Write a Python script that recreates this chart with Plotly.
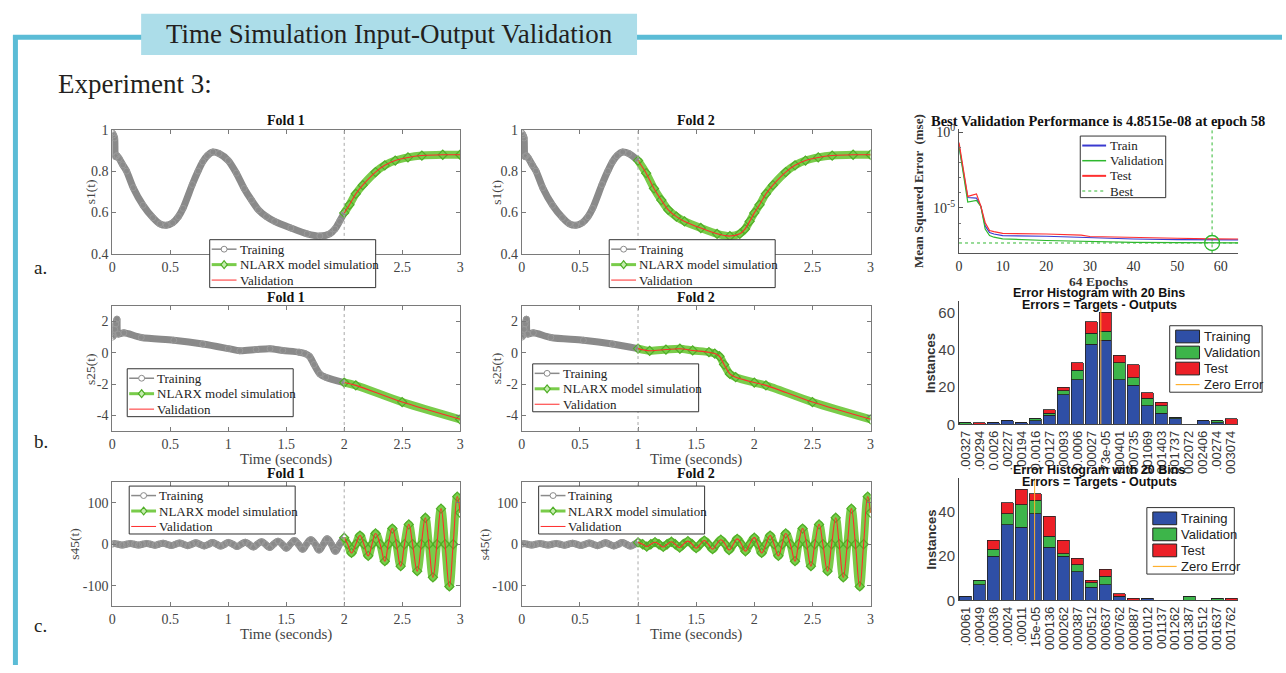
import plotly.graph_objects as go

W, H = 1286, 673


def fx(px):
    return px / W


def fy(py):
    return 1 - py / H


SERIF = "Liberation Serif"
SANS = "Liberation Sans"

# ---------------- data ----------------
time_ticks = [0, 0.5, 1, 1.5, 2, 2.5, 3]
time_tick_text = ["0", "0.5", "1", "1.5", "2", "2.5", "3"]
fold_names = ["Fold 1", "Fold 2"]
fold_splits = [2.0, 1.0]

t_s1 = [0.0, 0.01, 0.02, 0.028, 0.04, 0.06, 0.09, 0.123, 0.18, 0.265, 0.35, 0.41, 0.465,
        0.52, 0.57, 0.61, 0.69, 0.74, 0.78, 0.82, 0.868, 0.92, 1.0, 1.07, 1.137, 1.2,
        1.26, 1.33, 1.40, 1.54, 1.68, 1.79, 1.875, 1.92, 1.96, 2.0, 2.045, 2.1, 2.16,
        2.27, 2.35, 2.44, 2.55, 2.67, 2.85, 3.0]
v_s1 = [0.985, 0.975, 0.96, 0.87, 0.875, 0.86, 0.83, 0.80, 0.72, 0.635, 0.575, 0.545, 0.538,
        0.55, 0.58, 0.62, 0.735, 0.80, 0.845, 0.875, 0.892, 0.885, 0.851, 0.79, 0.716, 0.66,
        0.613, 0.58, 0.557, 0.525, 0.497, 0.486, 0.497, 0.52, 0.557, 0.598, 0.637, 0.69, 0.732,
        0.795, 0.828, 0.851, 0.866, 0.875, 0.879, 0.879]

t_s25 = [0.0, 0.01, 0.02, 0.03, 0.04, 0.05, 0.1, 0.25, 0.53, 0.78, 1.0, 1.1, 1.24, 1.36,
         1.47, 1.61, 1.66, 1.70, 1.74, 1.79, 1.84, 2.0, 2.1, 2.5, 3.0]
v_s25 = [1.0, 1.1, 1.5, 1.85, 2.15, 1.2, 1.28, 0.98, 0.8, 0.56, 0.27, 0.13, 0.21, 0.26,
         0.15, 0.04, -0.05, -0.22, -0.75, -1.35, -1.56, -1.9, -2.08, -3.15, -4.25]

t_s45 = [0.0, 0.014, 0.05, 0.085, 0.12, 0.155, 0.19, 0.226, 0.26, 0.297, 0.33, 0.368, 0.40,
         0.438, 0.47, 0.509, 0.545, 0.58, 0.615, 0.651, 0.685, 0.721, 0.755, 0.792, 0.83,
         0.863, 0.90, 0.934, 0.97, 1.0, 1.04, 1.075, 1.11, 1.146, 1.18, 1.217, 1.25, 1.287,
         1.32, 1.358, 1.39, 1.429, 1.465, 1.50, 1.535, 1.57, 1.605, 1.641, 1.675, 1.712, 1.75,
         1.783, 1.82, 1.853, 1.89, 1.924, 1.96, 2.0, 2.03, 2.063, 2.10, 2.136, 2.17, 2.207,
         2.24, 2.27, 2.31, 2.35, 2.38, 2.415, 2.45, 2.487, 2.52, 2.557, 2.59, 2.63, 2.665,
         2.70, 2.73, 2.765, 2.80, 2.835, 2.87, 2.907, 2.94, 2.975, 3.0]
v_s45 = [0, 1.5, 0, -2, 0, 2, 0, -2, 0, 2, 0, -2.5, 0,
         2.5, 0, -3, 0, 3, 0, -3.5, 0, 3.5, 0, -4, 0,
         4, 0, -4.5, 0, 4.5, 0, -5.5, 0, 5, 0, -6.5, 0, 6,
         0, -8, 0, 7.5, 0, -9.5, 0, 9, 0, -12, 0, 11, 0,
         -14, 0, 13, 0, -17, 0, 16, 0, -21, 0, 21, 0, -28,
         0, 26, 0, -41, 0, 38, 0, -53, 0, 48, 0, -65, 0,
         64, 0, -80, 0, 86, 0, -102, 0, 115, 76]

epochs = [0, 2, 4, 5, 6, 7, 8, 10, 20, 28, 30, 40, 50, 58, 64]
mse_train = [0.13, 4.9e-5, 4.5e-5, 1.3e-5, 6.5e-7, 2.4e-7, 1.9e-7, 1.5e-7, 1.35e-7, 1.15e-7,
             1.05e-7, 8.9e-8, 8.1e-8, 7.9e-8, 7.8e-8]
mse_val = [0.126, 2.45e-5, 3.2e-5, 1.26e-5, 4.0e-7, 1.5e-7, 1.17e-7, 9.1e-8, 7.1e-8, 6.3e-8,
           6.0e-8, 5.4e-8, 5.1e-8, 4.8515e-8, 4.9e-8]
mse_test = [0.21, 5.8e-5, 8.5e-5, 1.3e-5, 1.05e-6, 3.2e-7, 2.7e-7, 2.1e-7, 1.9e-7, 1.6e-7,
            1.3e-7, 1.1e-7, 1.0e-7, 9.2e-8, 8.9e-8]
best_epoch = 58
best_mse = 4.8515e-08
n_epochs = 64

hist1_labels = [".00327", ".00294", "0.0026", ".00227", ".00194", "0.0016", ".00127", ".00093",
                "0.0006", ".00027", "73e-05", "000401", "000735", "001069", "001403", "001737",
                "002072", "002406", ".00274", "003074"]
hist1_train = [0, 0, 1, 2, 1, 2, 5, 16, 24, 43, 45, 24, 21, 10, 6, 3, 0, 2, 1, 0]
hist1_val = [1, 0, 0, 0, 0, 1, 1, 2, 5, 6, 5, 9, 4, 4, 4, 1, 0, 0, 1, 0]
hist1_test = [0, 1, 0, 0, 0, 0, 2, 2, 4, 6, 10, 4, 7, 3, 2, 0, 0, 0, 0, 3]
hist1_zero_bin = 9.68

hist2_labels = [".00061", ".00049", ".00036", ".00024", ".00011", "15e-05", "000136", "000262",
                "000387", "000512", "000637", "000762", "000887", "001012", "001137", "001262",
                "001387", "001512", "001637", "001762"]
hist2_train = [2, 7, 20, 34, 33, 39, 24, 20, 13, 6, 7, 2, 0, 1, 0, 0, 0, 0, 0, 0]
hist2_val = [0, 2, 3, 5, 10, 6, 5, 1, 3, 2, 4, 0, 0, 0, 0, 0, 2, 0, 1, 0]
hist2_test = [0, 0, 4, 5, 7, 3, 9, 6, 3, 1, 3, 1, 1, 0, 0, 0, 0, 0, 0, 1]
hist2_zero_bin = 4.95

fold_legend_labels = ["Training", "NLARX model simulation", "Validation"]
perf_legend_labels = ["Train", "Validation", "Test", "Best"]
hist_legend_labels = ["Training", "Validation", "Test", "Zero Error"]

# ---------------- styles ----------------
GREY = "#8a8a8a"
GREEN_BAND = "#79cc4a"
GREEN = "#4fae27"
RED = "#ff2b2b"
AXC = "#7a7a7a"
TICKC = "#444444"
FRAME = "#5bbcd6"
C_TRAIN = "#3a3ad0"
C_VAL = "#2eb82e"
C_TEST = "#ff3030"
H_TRAIN = "#2f4fa6"
H_VAL = "#3db54a"
H_TEST = "#ec2027"
H_ZERO = "#ffb02e"

fig = go.Figure()

fold_x = [(109, 459), (521, 872)]
right_x = (961, 1242)
rows = [
    dict(y=(125.5, 252.5), t=t_s1, v=v_s1, yr=[0.4, 1.0], tv=[0.4, 0.6, 0.8, 1.0],
         tt=["0.4", "0.6", "0.8", "1"], lab="s1(t)", sm=0.8),
    dict(y=(305.7, 433.7), t=t_s25, v=v_s25, yr=[-5, 3], tv=[-4, -2, 0, 2],
         tt=["-4", "-2", "0", "2"], lab="s25(t)", sm=0.8),
    dict(y=(486, 613), t=t_s45, v=v_s45, yr=[-150, 150], tv=[-100, 0, 100],
         tt=["-100", "0", "100"], lab="s45(t)", sm=1.25),
]
legend_pos = [[(207, 238), (609, 238)], [(124, 370), (532, 365)], [(126, 490), (538, 490)]]

layout_axes = {}
annotations = []
shapes = []
legend_shapes = []
ax_index = {(0, 0): 1, (0, 1): 2, (1, 0): 4, (1, 1): 5, (2, 0): 7, (2, 1): 8}


def ann(text, x, y, size, family=SERIF, color="#222", xanchor="center", yanchor="middle",
        angle=0, bold=False):
    if bold:
        text = "<b>" + text + "</b>"
    annotations.append(dict(text=text, x=fx(x), y=fy(y), xref="paper", yref="paper",
                            showarrow=False, xanchor=xanchor, yanchor=yanchor,
                            textangle=angle, font=dict(family=family, size=size, color=color)))


def pshape(**kw):
    d = dict(xref="paper", yref="paper", layer="above")
    d.update(kw)
    legend_shapes.append(d)


def draw_legend(x0, y0, w, h, first, step, items, family, size, s0, s1, tx):
    pshape(type="rect", x0=fx(x0), x1=fx(x0 + w), y0=fy(y0 + h), y1=fy(y0),
           fillcolor="white", line=dict(color="#333", width=1))
    for i, it in enumerate(items):
        yc = y0 + first + step * i
        if it["kind"] == "box":
            pshape(type="rect", x0=fx(x0 + s0), x1=fx(x0 + s1), y0=fy(yc + 6.5),
                   y1=fy(yc - 6.5), fillcolor=it["color"], line=dict(color="#222", width=1))
        else:
            pshape(type="line", x0=fx(x0 + s0), x1=fx(x0 + s1), y0=fy(yc), y1=fy(yc),
                   line=dict(color=it["color"], width=it.get("width", 1),
                             dash=it.get("dash", "solid")))
            xc = x0 + (s0 + s1) / 2
            if it.get("marker") == "circle":
                pshape(type="circle", x0=fx(xc - 3), x1=fx(xc + 3), y0=fy(yc + 3),
                       y1=fy(yc - 3), fillcolor="white",
                       line=dict(color=it["mcolor"], width=1))
            elif it.get("marker") == "diamond":
                path = "M %f %f L %f %f L %f %f L %f %f Z" % (
                    fx(xc - 3.2), fy(yc), fx(xc), fy(yc - 4), fx(xc + 3.2), fy(yc),
                    fx(xc), fy(yc + 4))
                pshape(type="path", path=path, fillcolor="#c6ecb0",
                       line=dict(color=it["mcolor"], width=1.2))
        ann(it["label"], x0 + tx, yc, size, family=family, color="#222", xanchor="left")


for r, row in enumerate(rows):
    for f in range(2):
        k = ax_index[(r, f)]
        xa = "x" if k == 1 else "x%d" % k
        ya = "y" if k == 1 else "y%d" % k
        split = fold_splits[f]
        sm = row["sm"]
        t, v = row["t"], row["v"]
        tr_t = [a for a in t if a <= split]
        tr_v = [b for a, b in zip(t, v) if a <= split]
        va_t = [a for a in t if a >= split]
        va_v = [b for a, b in zip(t, v) if a >= split]
        common = dict(xaxis=xa, yaxis=ya, hoverinfo="skip", showlegend=False)
        fig.add_trace(go.Scatter(x=tr_t, y=tr_v, mode="lines",
                                 line=dict(color=GREY, width=7, shape="spline", smoothing=sm),
                                 **common))
        fig.add_trace(go.Scatter(x=tr_t, y=tr_v, mode="lines+markers", name="Training",
                                 line=dict(color=GREY, width=1, shape="spline", smoothing=sm),
                                 marker=dict(symbol="circle-open", size=6, color="#9a9a9a",
                                             line=dict(width=1)), **common))
        fig.add_trace(go.Scatter(x=va_t, y=va_v, mode="lines",
                                 line=dict(color=GREEN_BAND, width=8, shape="spline",
                                           smoothing=sm), **common))
        fig.add_trace(go.Scatter(x=va_t, y=va_v, mode="lines+markers",
                                 name="NLARX model simulation",
                                 line=dict(color=GREEN_BAND, width=2.5, shape="spline",
                                           smoothing=sm),
                                 marker=dict(symbol="diamond-open", size=7, color=GREEN,
                                             line=dict(width=1.2)), **common))
        fig.add_trace(go.Scatter(x=va_t, y=va_v, mode="lines", name="Validation",
                                 line=dict(color=RED, width=1.1, shape="spline", smoothing=sm),
                                 **common))
        x0, x1 = fold_x[f]
        y0, y1 = row["y"]
        layout_axes["xaxis" if k == 1 else "xaxis%d" % k] = dict(
            domain=[fx(x0), fx(x1)], anchor=ya, range=[0, 3], tickvals=time_ticks,
            ticktext=time_tick_text, showline=True, linecolor=AXC, linewidth=1,
            mirror="ticks", ticks="inside", ticklen=4, tickcolor=AXC, showgrid=False,
            zeroline=False, tickfont=dict(family=SERIF, size=14, color=TICKC))
        layout_axes["yaxis" if k == 1 else "yaxis%d" % k] = dict(
            domain=[fy(y1), fy(y0)], anchor=xa, range=row["yr"], tickvals=row["tv"],
            ticktext=row["tt"], showline=True, linecolor=AXC, linewidth=1,
            mirror="ticks", ticks="inside", ticklen=4, tickcolor=AXC, showgrid=False,
            zeroline=False, tickfont=dict(family=SERIF, size=14, color=TICKC))
        shapes.append(dict(type="line", xref=xa, yref=ya + " domain", x0=split, x1=split,
                           y0=0, y1=1, line=dict(color="#a8a8a8", width=1, dash="3px,3px")))
        lx, ly = legend_pos[r][f]
        draw_legend(lx, ly, 167, 49, 9.7, 15.8, [
            dict(kind="line", label=fold_legend_labels[0], color=GREY, width=1.5,
                 marker="circle", mcolor=GREY),
            dict(kind="line", label=fold_legend_labels[1], color=GREEN_BAND, width=3,
                 marker="diamond", mcolor=GREEN),
            dict(kind="line", label=fold_legend_labels[2], color=RED, width=1),
        ], SERIF, 13, 2, 27, 28)
        ann(fold_names[f], (x0 + x1) / 2, y0 - 9, 14, bold=True, color="#111")
        if f == 0:
            ylx = 87 if r < 2 else 71
        else:
            ylx = 496 if r < 2 else 483
        ann(row["lab"], ylx, (y0 + y1) / 2, 13.5, color=TICKC, angle=-90)
        if r > 0:
            ann("Time (seconds)", (x0 + x1) / 2, y1 + 29, 15, color=TICKC)

# ---------------- performance plot ----------------
pc = dict(xaxis="x3", yaxis="y3", hoverinfo="skip", showlegend=False)
fig.add_trace(go.Scatter(x=epochs, y=mse_train, mode="lines", name="Train",
                         line=dict(color=C_TRAIN, width=1.2), **pc))
fig.add_trace(go.Scatter(x=epochs, y=mse_val, mode="lines", name="Validation",
                         line=dict(color=C_VAL, width=1.2), **pc))
fig.add_trace(go.Scatter(x=epochs, y=mse_test, mode="lines", name="Test",
                         line=dict(color=C_TEST, width=1.2), **pc))
fig.add_trace(go.Scatter(x=[0, n_epochs], y=[best_mse, best_mse], mode="lines", name="Best",
                         line=dict(color="#33b833", width=1, dash="dot"), **pc))
fig.add_trace(go.Scatter(x=[best_epoch, best_epoch], y=[1e-8, 1.6], mode="lines",
                         line=dict(color="#33b833", width=1, dash="dot"), **pc))
fig.add_trace(go.Scatter(x=[best_epoch], y=[best_mse], mode="markers",
                         marker=dict(symbol="circle-open", size=15, color="#2eb82e",
                                     line=dict(width=1.3)), **pc))
layout_axes["xaxis3"] = dict(domain=[fx(right_x[0]), fx(right_x[1])], anchor="y3",
                             range=[0, n_epochs], tickvals=[0, 10, 20, 30, 40, 50, 60],
                             showline=True, linecolor="#555", ticks="", showgrid=False,
                             zeroline=False, tickfont=dict(family=SERIF, size=14, color="#333"))
layout_axes["yaxis3"] = dict(domain=[fy(252), fy(125)], anchor="x3", type="log",
                             range=[-8, 0.2], tickvals=[1, 1e-5],
                             ticktext=["10<sup>0</sup>", "10<sup>-5</sup>"], showline=True,
                             linecolor="#555", ticks="inside", ticklen=4, tickcolor="#555",
                             showgrid=False, zeroline=False,
                             minor=dict(ticks="inside", ticklen=2, tickcolor="#777",
                                        tickvals=[1e-1, 1e-2, 1e-3, 1e-4, 1e-6, 1e-7],
                                        showgrid=False),
                             tickfont=dict(family=SERIF, size=14, color="#333"))
draw_legend(1083, 132, 86, 63, 9.7, 15.5, [
    dict(kind="line", label=perf_legend_labels[0], color=C_TRAIN, width=2),
    dict(kind="line", label=perf_legend_labels[1], color=C_VAL, width=1.5),
    dict(kind="line", label=perf_legend_labels[2], color=C_TEST, width=2),
    dict(kind="line", label=perf_legend_labels[3], color="#33b833", width=1, dash="dot"),
], SERIF, 13, 2, 26, 28)
ann("Best Validation Performance is 4.8515e-08 at epoch 58", 1101, 117, 14.5, bold=True,
    color="#111")
ann("Mean Squared Error  (mse)", 921, 188, 13, bold=True, color="#333", angle=-90)
ann("64 Epochs", 1101, 281, 13.5, bold=True, color="#333")

# ---------------- histograms ----------------
hists = [
    dict(k=6, labels=hist1_labels, tr=hist1_train, va=hist1_val, te=hist1_test,
         zero=hist1_zero_bin, ytop=66, ytv=[0, 20, 40, 60], y=(301, 427),
         leg=(1173, 326, 93), t1=293, t2=305),
    dict(k=9, labels=hist2_labels, tr=hist2_train, va=hist2_val, te=hist2_test,
         zero=hist2_zero_bin, ytop=55, ytv=[0, 20, 40], y=(482, 607),
         leg=(1150, 512, 88), t1=474, t2=486),
]
bins = list(range(20))
for h in hists:
    k = h["k"]
    hc = dict(xaxis="x%d" % k, yaxis="y%d" % k, hoverinfo="skip", showlegend=False)
    edge = dict(color="#222", width=0.8)
    fig.add_trace(go.Bar(x=bins, y=h["tr"], name="Training", width=0.84,
                         marker=dict(color=H_TRAIN, line=edge), **hc))
    fig.add_trace(go.Bar(x=bins, y=h["va"], name="Validation", width=0.84,
                         marker=dict(color=H_VAL, line=edge), **hc))
    fig.add_trace(go.Bar(x=bins, y=h["te"], name="Test", width=0.84,
                         marker=dict(color=H_TEST, line=edge), **hc))
    fig.add_trace(go.Scatter(x=[h["zero"], h["zero"]], y=[0, h["ytop"]], mode="lines",
                             name="Zero Error", line=dict(color=H_ZERO, width=1), **hc))
    layout_axes["xaxis%d" % k] = dict(domain=[fx(right_x[0]), fx(right_x[1])],
                                      anchor="y%d" % k, range=[-0.45, 19.5], tickvals=bins,
                                      ticktext=h["labels"], tickangle=-90, showline=True,
                                      linecolor="#444", ticks="", showgrid=False,
                                      zeroline=False,
                                      tickfont=dict(family=SANS, size=13, color="#333"))
    layout_axes["yaxis%d" % k] = dict(domain=[fy(h["y"][1]), fy(h["y"][0])],
                                      anchor="x%d" % k, range=[0, h["ytop"]],
                                      tickvals=h["ytv"], showline=True, linecolor="#444",
                                      ticks="", showgrid=False, zeroline=False,
                                      tickfont=dict(family=SANS, size=15, color="#444"))
    lx, ly, lw = h["leg"]
    draw_legend(lx, ly, lw, 68, 11, 16.4, [
        dict(kind="box", label=hist_legend_labels[0], color=H_TRAIN),
        dict(kind="box", label=hist_legend_labels[1], color=H_VAL),
        dict(kind="box", label=hist_legend_labels[2], color=H_TEST),
        dict(kind="line", label=hist_legend_labels[3], color=H_ZERO, width=1.2),
    ], SANS, 13, 6, 30, 32)
    ann("Error Histogram with 20 Bins", 1102, h["t1"], 12.5, family=SANS, bold=True,
        color="#111")
    ann("Errors = Targets - Outputs", 1102, h["t2"], 12.5, family=SANS, bold=True,
        color="#111")
    ann("Instances", 933, (h["y"][0] + h["y"][1]) / 2, 13, family=SANS, bold=True,
        color="#333", angle=-90)

# ---------------- frame, header, row labels ----------------
frame_shapes = [
    dict(type="line", xref="paper", yref="paper", x0=fx(9), x1=1, y0=fy(31), y1=fy(31),
         line=dict(color=FRAME, width=5)),
    dict(type="line", xref="paper", yref="paper", x0=fx(11.5), x1=fx(11.5), y0=fy(29), y1=0,
         line=dict(color=FRAME, width=5)),
    dict(type="rect", xref="paper", yref="paper", x0=fx(138), x1=fx(637), y0=fy(49),
         y1=fy(7), fillcolor="#acdde9", line=dict(width=0)),
]
ann("Time Simulation Input-Output Validation", 388, 28, 27, color="#231f20")
ann("Experiment 3:", 52, 79, 27, color="#231f20", xanchor="left")
ann("a.", 28, 266, 19, color="#231f20", xanchor="left")
ann("b.", 28, 444, 19, color="#231f20", xanchor="left")
ann("c.", 28, 633, 19, color="#231f20", xanchor="left")

fig.update_layout(
    width=W, height=H, autosize=False, margin=dict(l=0, r=0, t=0, b=0),
    paper_bgcolor="white", plot_bgcolor="white", showlegend=False,
    barmode="stack", annotations=annotations,
    shapes=frame_shapes + shapes + legend_shapes,
    **layout_axes,
)

fig.write_html("out.html")
